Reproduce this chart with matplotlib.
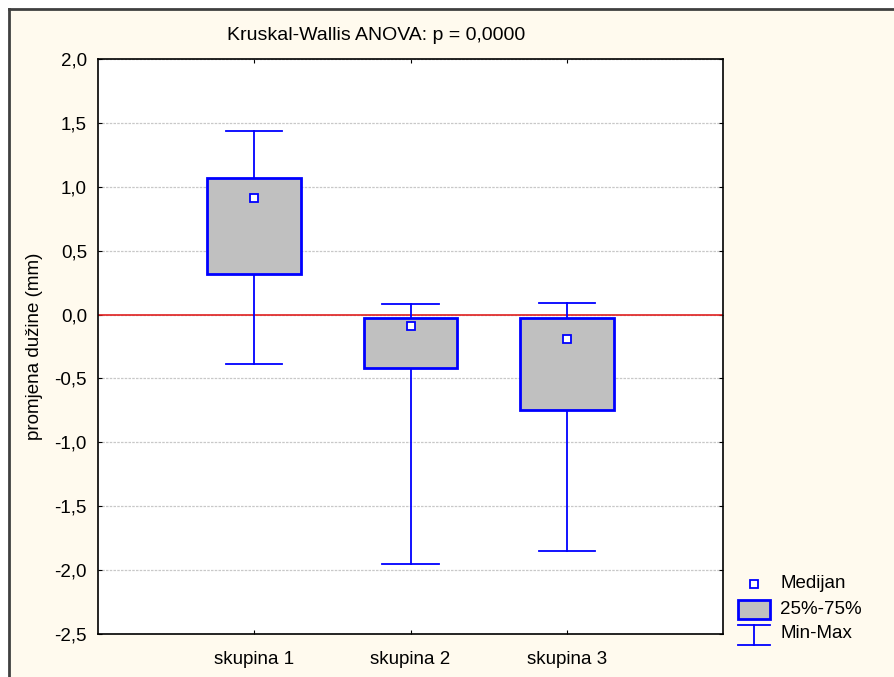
import matplotlib
matplotlib.use("Agg")
import matplotlib.pyplot as plt
from matplotlib.patches import Rectangle
from matplotlib.lines import Line2D

plt.rcParams['font.family'] = ['Liberation Sans', 'DejaVu Sans']

groups = ["skupina 1", "skupina 2", "skupina 3"]
mins = [-0.39, -1.95, -1.85]
q1 = [0.32, -0.42, -0.745]
medians = [0.91, -0.09, -0.19]
q3 = [1.07, -0.03, -0.025]
maxs = [1.44, 0.08, 0.09]
yticks = [-2.5, -2.0, -1.5, -1.0, -0.5, 0.0, 0.5, 1.0, 1.5, 2.0]
title = "Kruskal-Wallis ANOVA: p = 0,0000"
ylabel = "promjena dužine (mm)"

W, H = 894, 677
cream = "#fffaee"
blue = "#0000ff"
fs = 13.5

fig = plt.figure(figsize=(W / 100, H / 100), dpi=100)
fig.patch.set_facecolor("white")

# background frame
fig.add_artist(Rectangle((9 / W, 0), 1 - 9 / W, 1 - 9 / H, transform=fig.transFigure,
                         facecolor=cream, edgecolor="none", zorder=-10))
fig.add_artist(Line2D([8.5 / W, 1], [1 - 8.5 / H, 1 - 8.5 / H], transform=fig.transFigure,
                      color="#404040", lw=2))
fig.add_artist(Line2D([8.5 / W, 8.5 / W], [0, 1 - 8.5 / H], transform=fig.transFigure,
                      color="#404040", lw=2))

ax = fig.add_axes([98 / W, 1 - 634 / H, (723 - 98) / W, (634 - 59) / H])
ax.set_facecolor("white")

pos = [1, 2, 3]
bw = 0.6
cw = 0.36
for i, x in enumerate(pos):
    ax.plot([x, x], [q3[i], maxs[i]], color=blue, lw=1.3, zorder=2)
    ax.plot([x, x], [mins[i], q1[i]], color=blue, lw=1.3, zorder=2)
    ax.plot([x - cw / 2, x + cw / 2], [maxs[i], maxs[i]], color=blue, lw=1.3, zorder=2)
    ax.plot([x - cw / 2, x + cw / 2], [mins[i], mins[i]], color=blue, lw=1.3, zorder=2)
    ax.add_patch(Rectangle((x - bw / 2, q1[i]), bw, q3[i] - q1[i],
                           facecolor="#c0c0c0", edgecolor=blue, lw=2, zorder=3))
ax.plot(pos, medians, ls="none", marker="s", ms=6, mfc="white", mec=blue, mew=1.3, zorder=4)

ax.axhline(0, color="#e02020", lw=1.2, zorder=1)

ax.set_xlim(0, 4)
ax.set_ylim(-2.5, 2.0)
ax.set_yticks(yticks)
ax.set_yticklabels([f"{v:.1f}".replace(".", ",") for v in yticks])
ax.set_xticks(pos)
ax.set_xticklabels(groups)
ax.tick_params(direction="in", top=True, right=True, length=3, labelsize=fs)
ax.tick_params(axis="y", pad=8)
ax.tick_params(axis="x", pad=12)
ax.yaxis.grid(True, ls=(0, (2, 1)), color="#c8c8c8", lw=0.9)
ax.set_axisbelow(True)
for s in ax.spines.values():
    s.set_linewidth(1.2)
    s.set_color("black")

ax.set_ylabel(ylabel, fontsize=fs)
ax.yaxis.set_label_coords((43 - 98) / 625, 0.5)
fig.text(376 / W, 1 - 35 / H, title, ha="center", va="center", fontsize=fs + 0.5)

# legend
lg = fig.add_axes([0, 0, 1, 1], facecolor="none")
lg.set_xlim(0, W)
lg.set_ylim(H, 0)
lg.axis("off")
lg.plot([754], [584], ls="none", marker="s", ms=6, mfc="white", mec=blue, mew=1.3)
lg.add_patch(Rectangle((738, 600), 32, 19, facecolor="#c0c0c0", edgecolor=blue, lw=2))
lg.plot([738, 770], [625, 625], color=blue, lw=1.3)
lg.plot([738, 770], [645, 645], color=blue, lw=1.3)
lg.plot([754, 754], [625, 645], color=blue, lw=1.3)
for y, t in [(584, "Medijan"), (609, "25%-75%"), (634, "Min-Max")]:
    lg.text(780, y, t, va="center", ha="left", fontsize=fs)

fig.savefig("out.png", dpi=100, facecolor=fig.get_facecolor())
